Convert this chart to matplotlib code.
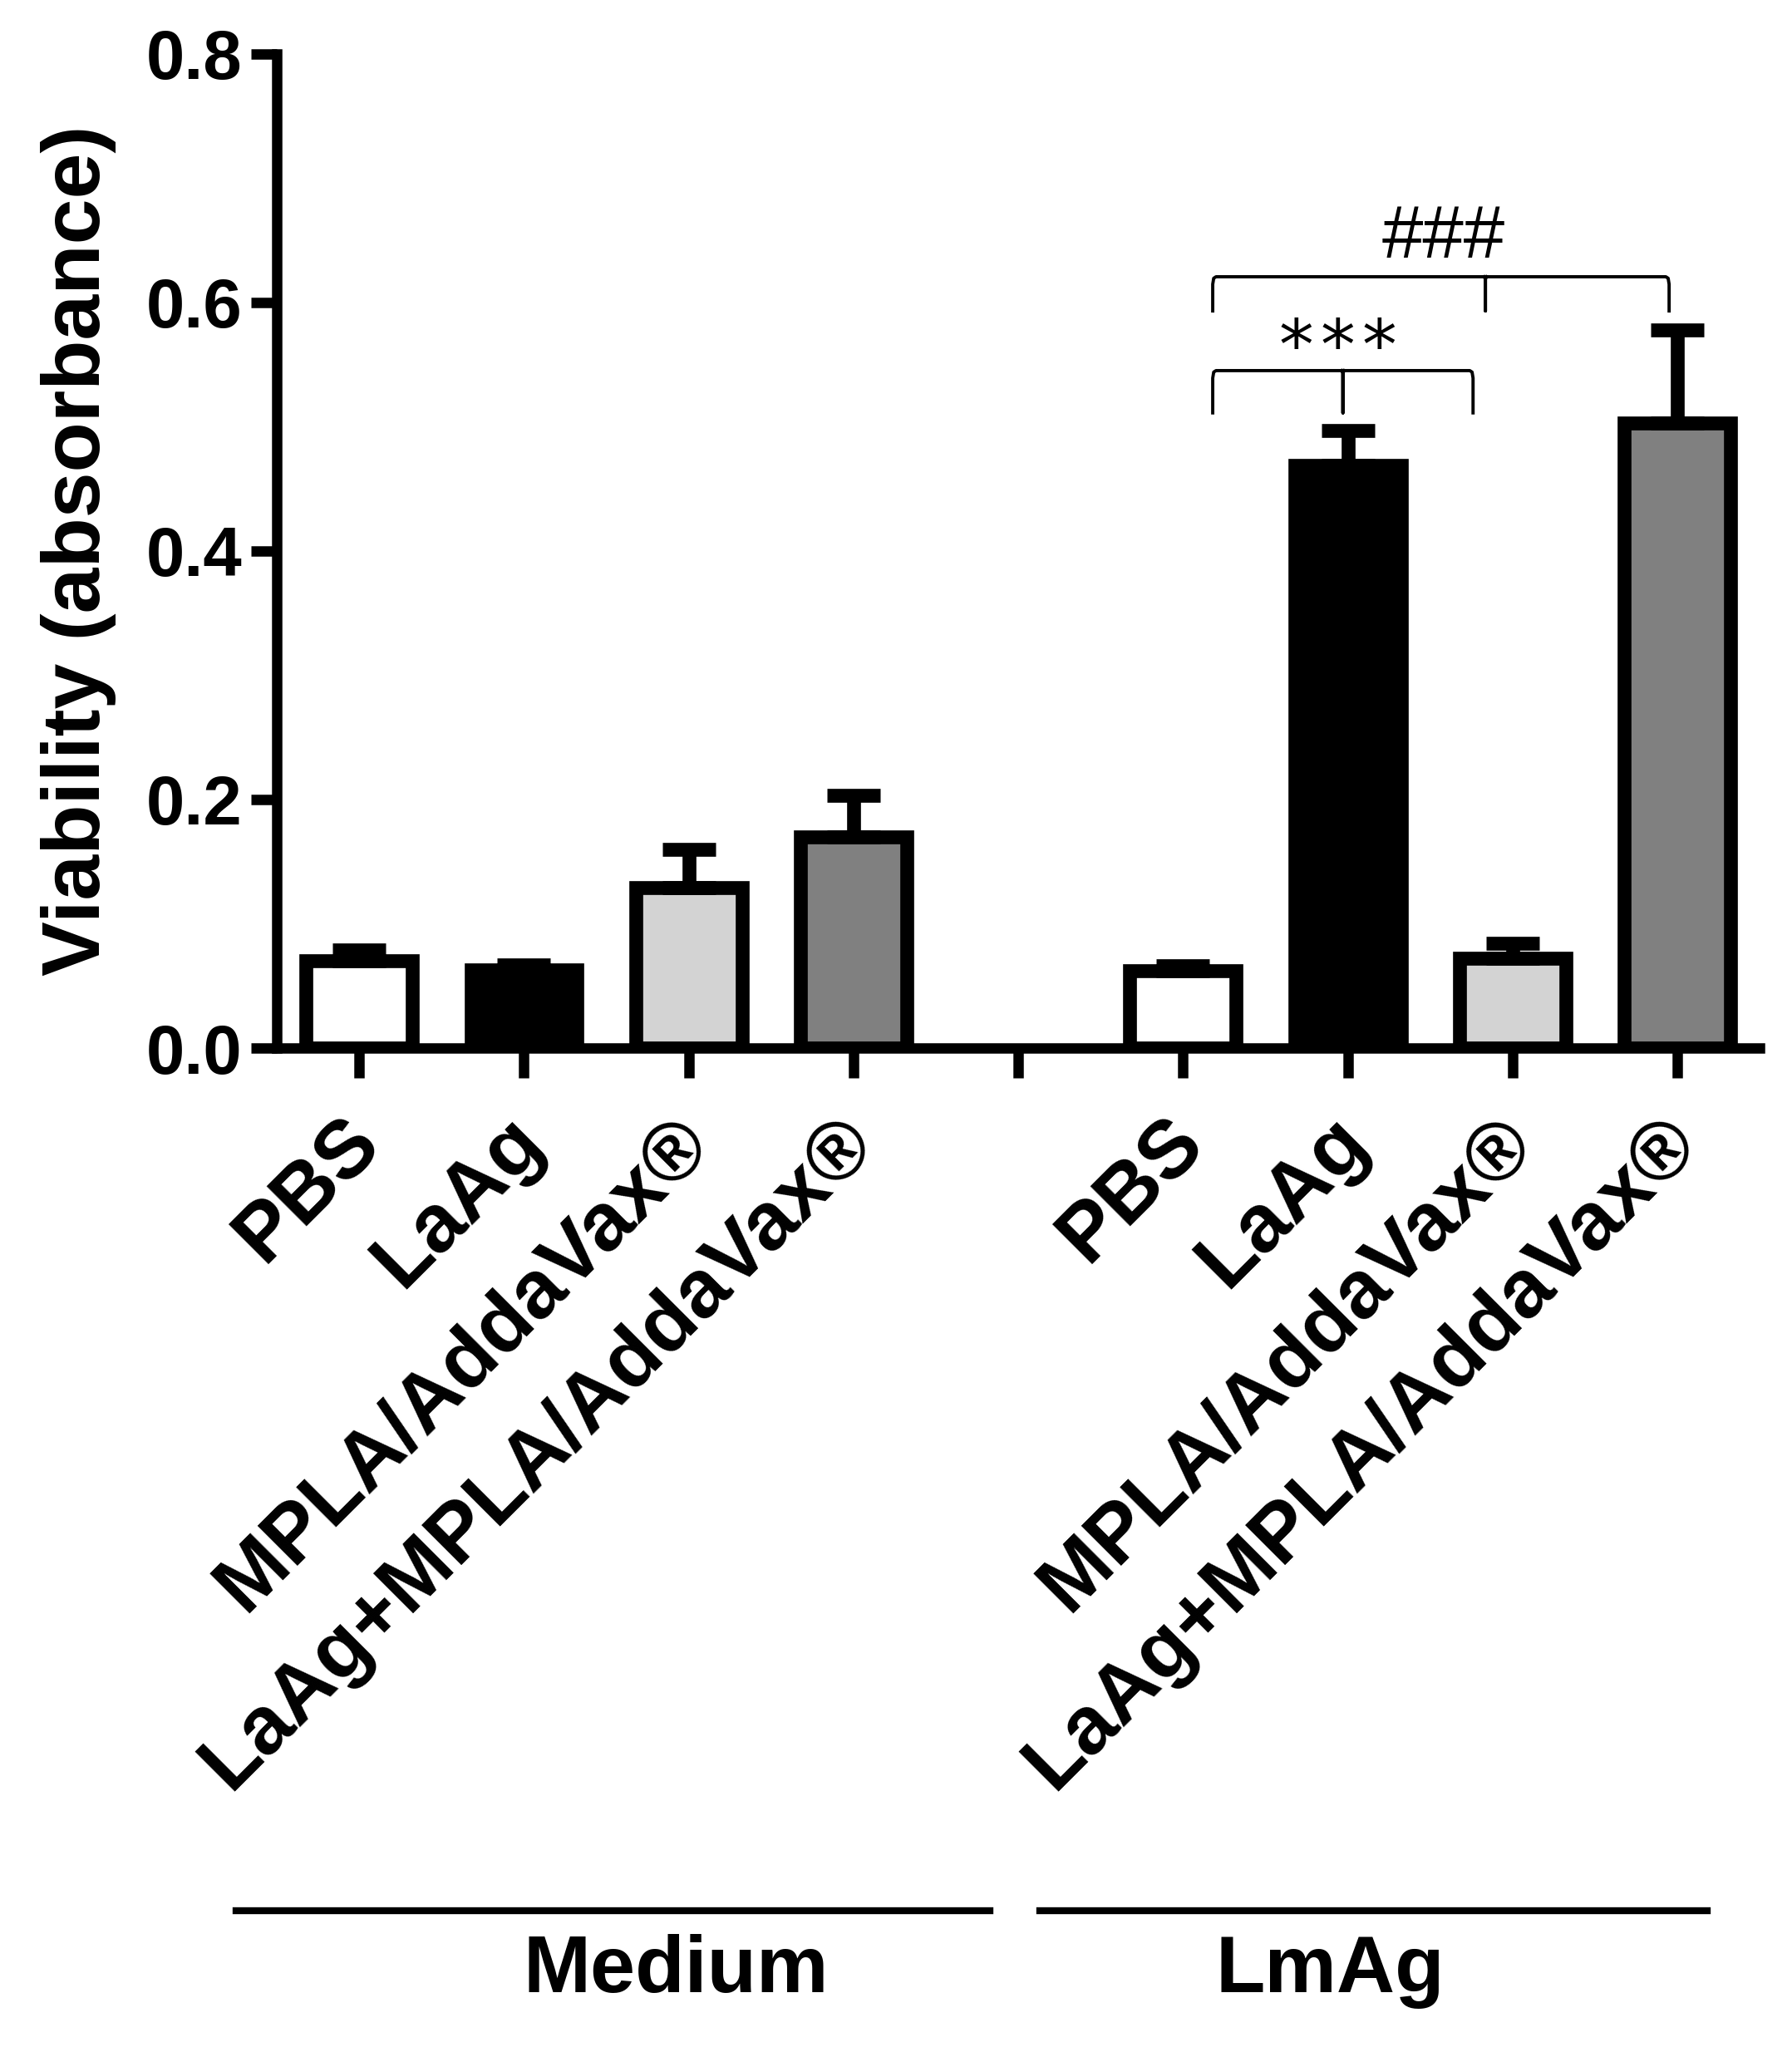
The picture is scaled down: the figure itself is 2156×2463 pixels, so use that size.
import matplotlib.pyplot as plt
import matplotlib.transforms as mtransforms

plt.rcParams['font.family'] = ['Liberation Sans', 'DejaVu Sans']

# 数据
groups = ['Medium', 'LmAg']
treatments = ['PBS', 'LaAg', 'MPLA/AddaVax®', 'LaAg+MPLA/AddaVax®']
medium_mean = [0.070, 0.063, 0.129, 0.170]
medium_err = [0.009, 0.004, 0.031, 0.033]
lmag_mean = [0.062, 0.469, 0.072, 0.503]
lmag_err = [0.004, 0.028, 0.012, 0.075]
bar_colors = ['white', 'black', '#d3d3d3', '#808080']
y_ticks = [0.0, 0.2, 0.4, 0.6, 0.8]

fig = plt.figure(figsize=(10.78, 12.315), dpi=200)
ax = fig.add_axes([0.1545, 0.488, 0.8275, 0.4858])

pos_medium = [0, 1, 2, 3]
pos_lmag = [5, 6, 7, 8]

for pos, mean, err in [(pos_medium, medium_mean, medium_err), (pos_lmag, lmag_mean, lmag_err)]:
    ax.bar(pos, mean, width=0.645, color=bar_colors, edgecolor='black', linewidth=6, zorder=2)
    ax.errorbar(pos, mean, yerr=[[0] * len(err), err], fmt='none', ecolor='black',
                elinewidth=6, capsize=11.5, capthick=6, zorder=3)

# 坐标轴
ax.set_xlim(-0.5, 8.5)
ax.set_ylim(0, 0.8)
ax.spines['top'].set_visible(False)
ax.spines['right'].set_visible(False)
ax.spines['left'].set_linewidth(4.5)
ax.spines['bottom'].set_linewidth(4.5)
ax.tick_params(axis='y', length=11, width=4.5, pad=4)
ax.tick_params(axis='x', length=13, width=4.5, pad=11)

ax.set_yticks(y_ticks)
ax.set_yticklabels([f'{v:.1f}' for v in y_ticks], fontsize=30, fontweight='bold')
ax.set_xticks(list(range(9)))
xlabels = treatments + [''] + treatments
ax.set_xticklabels(xlabels, rotation=45, ha='right', fontsize=35.5, fontweight='bold')
# 标签整体右移一点（在 tick_params 之后设置，否则会被重置）
offset = mtransforms.ScaledTranslation(15 / 72, 0, fig.dpi_scale_trans)
for lab in ax.get_xticklabels():
    lab.set_transform(lab.get_transform() + offset)

ax.set_ylabel('Viability (absorbance)', fontsize=35.5, fontweight='bold', labelpad=13)


# 显著性括号（两端略带弧度）
def bracket(x0, x1, xm, top, bottom):
    dx, dy = 0.02, 0.006
    xs = [x0, x0, x0 + dx * 0.3, x0 + dx, x1 - dx, x1 - dx * 0.3, x1, x1]
    ys = [bottom, top - dy, top - dy * 0.2, top, top, top - dy * 0.2, top - dy, bottom]
    ax.plot(xs, ys, color='black', lw=1.4, clip_on=False, zorder=4)
    ax.plot([xm - dx * 0.4, xm, xm, xm, xm + dx * 0.4], [top, top - dy * 0.3, bottom, top - dy * 0.3, top],
            color='black', lw=1.4, clip_on=False, zorder=4)


bracket(5.18, 6.76, 5.97, 0.545, 0.511)
for k in (-1, 0, 1):
    ax.text(5.94 + k * 0.252, 0.546, '*', ha='center', va='baseline', fontsize=30, family='DejaVu Sans')
bracket(5.18, 7.95, 6.835, 0.6205, 0.593)
ax.text(6.58, 0.636, '###', ha='center', va='baseline', fontsize=32, family='Liberation Sans')

# 分组线和标签
trans = mtransforms.blended_transform_factory(ax.transData, fig.transFigure)
ax.plot([-0.75, 3.83], [0.0665, 0.0665], color='black', lw=3, transform=trans, clip_on=False)
ax.plot([4.13, 8.18], [0.0665, 0.0665], color='black', lw=3, transform=trans, clip_on=False)
ax.text(1.92, 0.037, groups[0], ha='center', va='center', fontsize=35, fontweight='bold', transform=trans)
ax.text(5.89, 0.037, groups[1], ha='center', va='center', fontsize=35, fontweight='bold', transform=trans)

fig.savefig('out.png', dpi=200)
